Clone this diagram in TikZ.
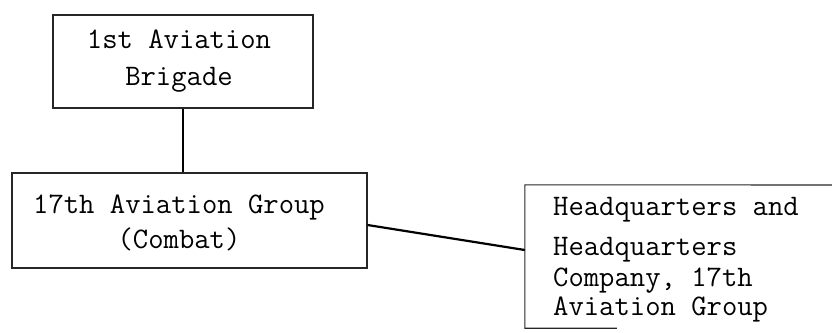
\documentclass[tikz,border=0pt]{standalone}
\begin{document}
\begin{tikzpicture}[x=1pt,y=-1pt,
  boxline/.style={draw=black!85, line width=1.1pt},
  link/.style={draw=black, line width=2.2pt},
  lbl/.style={font=\ttfamily\fontsize{29.8}{32}\selectfont, inner sep=0pt},
  hqline/.style={lbl, anchor=base west}]
\useasboundingbox (0,0) rectangle (832,332);
% boxes
\node[boxline, minimum width=260pt, minimum height=93pt, inner sep=0pt] (brig) at (183,61.5) {};
\node[boxline, minimum width=355pt, minimum height=95pt, inner sep=0pt] (grp) at (189.5,220.5) {};
\node[minimum width=340pt, minimum height=143pt, inner sep=0pt] (hq) at (695,256.5) {};
\draw[boxline] (832,185) -- (hq.north west) -- (hq.south west) -- ++(92,0);
% texts
\node[lbl, align=center] (brigtext) at (179,61.5) {1st Aviation\\[5pt]Brigade};
\node[lbl, align=center] (grptext) at (179,222.5) {17th Aviation Group\\[3pt](Combat)};
\node[hqline] (hq1) at (553,215) {Headquarters and};
\node[hqline] (hq2) at (553,255) {Headquarters};
\node[hqline] (hq3) at (553,286) {Company, 17th};
\node[hqline] (hq4) at (553,315) {Aviation Group};
% connectors
\draw[link] (brig.south) -- (brig.south |- grp.north);
\draw[link] ([yshift=-4.5pt]grp.east) -- ([yshift=6.5pt]hq.west);
\end{tikzpicture}
\end{document}
